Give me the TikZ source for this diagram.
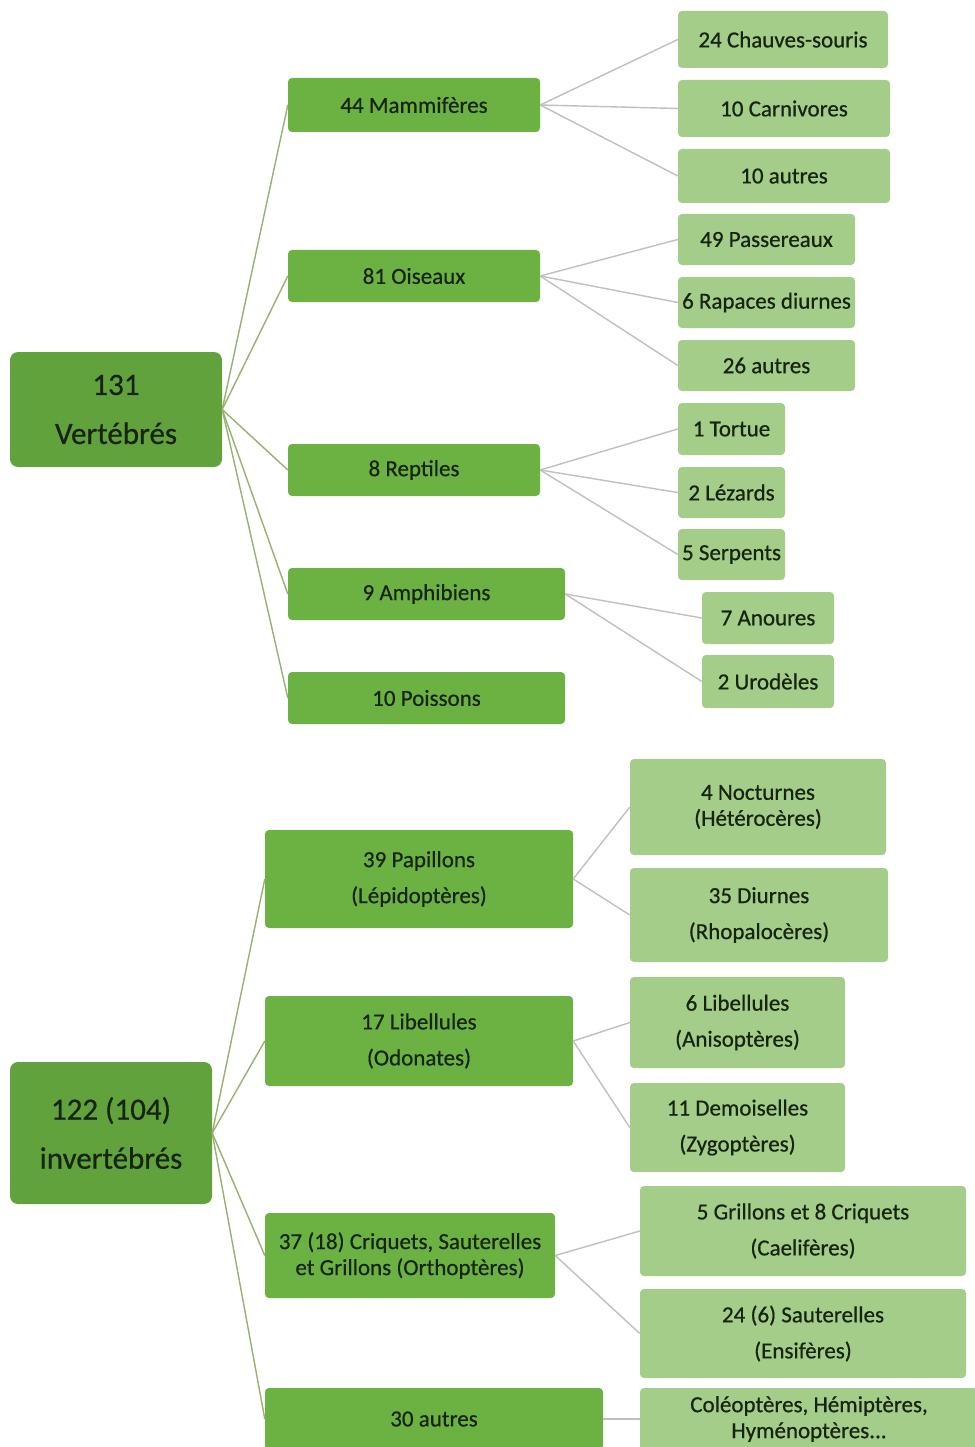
\documentclass[tikz,border=0pt]{standalone}
\usepackage{fontspec}
\setmainfont[FakeBold=0.6]{Carlito}
\definecolor{rootgreen}{HTML}{62A23C}
\definecolor{midgreen}{HTML}{6CB243}
\definecolor{leafgreen}{HTML}{A3CD88}
\definecolor{txt}{HTML}{172410}
\definecolor{rootline}{HTML}{98B070}
\definecolor{leafline}{HTML}{C0C0C0}
\begin{document}
\begin{tikzpicture}[x=1pt,y=-1pt,
  box/.style={inner sep=0pt, align=center, text=txt, draw=none},
  rootbox/.style={box, fill=rootgreen, rounded corners=8pt, font=\fontsize{31}{49}\selectfont},
  midbox/.style={box, fill=midgreen, rounded corners=4pt, font=\fontsize{23}{36}\selectfont},
  leafbox/.style={box, fill=leafgreen, rounded corners=4pt, font=\fontsize{23}{36}\selectfont},
  tight/.style={font=\fontsize{23}{26}\selectfont},
  rootedge/.style={draw=rootline, line width=1.4pt},
  leafedge/.style={draw=leafline, line width=1.4pt},
  wh/.style 2 args={minimum width=#1pt, minimum height=#2pt}
]
\useasboundingbox (0,0) rectangle (974,1447);
\fill[white] (0,0) rectangle (974,1447);

% ---------- Vertebrates ----------
\node[rootbox, wh={212}{115}] (root1) at (116,409.5) {131\\Vertébrés};

\node[midbox, wh={252}{54}] (mam) at (414,105) {44 Mammifères};
\node[midbox, wh={252}{52}] (ois) at (414,276) {81 Oiseaux};
\node[midbox, wh={252}{52}] (rep) at (414,470) {8 Reptiles};
\node[midbox, wh={277}{52}] (amp) at (426.5,594) {9 Amphibiens};
\node[midbox, wh={277}{52}] (poi) at (426.5,698) {10 Poissons};

\node[leafbox, wh={210}{57}] (chs) at (783,39.5) {24 Chauves-souris};
\node[leafbox, wh={212}{57}] (car) at (784,108.5) {10 Carnivores};
\node[leafbox, wh={212}{54}] (aut1) at (784,176) {10 autres};
\node[leafbox, wh={177}{51}] (pas) at (766.5,239.5) {49 Passereaux};
\node[leafbox, wh={177}{51}] (rap) at (766.5,302.5) {6 Rapaces diurnes};
\node[leafbox, wh={177}{51}] (aut2) at (766.5,365.5) {26 autres};
\node[leafbox, wh={107}{52}] (tor) at (731.5,429) {1 Tortue};
\node[leafbox, wh={107}{51}] (lez) at (731.5,492.5) {2 Lézards};
\node[leafbox, wh={107}{51}] (ser) at (731.5,554.5) {5 Serpents};
\node[leafbox, wh={132}{52}] (ano) at (768,618) {7 Anoures};
\node[leafbox, wh={132}{53}] (uro) at (768,681.5) {2 Urodèles};

\foreach \c in {mam,ois,rep,amp,poi} \draw[rootedge] (root1.east) -- (\c.west);
\foreach \c in {chs,car,aut1} \draw[leafedge] (mam.east) -- (\c.west);
\foreach \c in {pas,rap,aut2} \draw[leafedge] (ois.east) -- (\c.west);
\foreach \c in {tor,lez,ser} \draw[leafedge] (rep.east) -- (\c.west);
\foreach \c in {ano,uro} \draw[leafedge] (amp.east) -- (\c.west);

% ---------- Invertebrates ----------
\node[rootbox, wh={202}{142}] (root2) at (111,1133) {122 (104)\\invertébrés};

\node[midbox, wh={308}{98}] (pap) at (419,879) {39 Papillons\\(Lépidoptères)};
\node[midbox, wh={308}{90}] (lib) at (419,1041) {17 Libellules\\(Odonates)};
\node[midbox, tight, wh={290}{85}] (cri) at (410,1255.5) {37 (18) Criquets, Sauterelles\\et Grillons (Orthoptères)};
\node[midbox, wh={338}{62}] (aut3) at (434,1419) {30 autres};

\node[leafbox, tight, wh={256}{96}] (noc) at (758,807) {4 Nocturnes\\(Hétérocères)};
\node[leafbox, wh={258}{94}] (diu) at (759,915) {35 Diurnes\\(Rhopalocères)};
\node[leafbox, wh={215}{91}] (ani) at (737.5,1022.5) {6 Libellules\\(Anisoptères)};
\node[leafbox, wh={215}{89}] (zyg) at (737.5,1127.5) {11 Demoiselles\\(Zygoptères)};
\node[leafbox, wh={326}{90}] (cae) at (803,1231) {5 Grillons et 8 Criquets\\(Caelifères)};
\node[leafbox, wh={326}{89}] (ens) at (803,1333.5) {24 (6) Sauterelles\\(Ensifères)};
\node[leafbox, tight, wh={338}{62}] (col) at (809,1419) {Coléoptères, Hémiptères,\\Hyménoptères...};

\foreach \c in {pap,lib,cri,aut3} \draw[rootedge] (root2.east) -- (\c.west);
\foreach \c in {noc,diu} \draw[leafedge] (pap.east) -- (\c.west);
\foreach \c in {ani,zyg} \draw[leafedge] (lib.east) -- (\c.west);
\foreach \c in {cae,ens} \draw[leafedge] (cri.east) -- (\c.west);
\draw[leafedge] (aut3.east) -- (col.west);
\end{tikzpicture}
\end{document}
